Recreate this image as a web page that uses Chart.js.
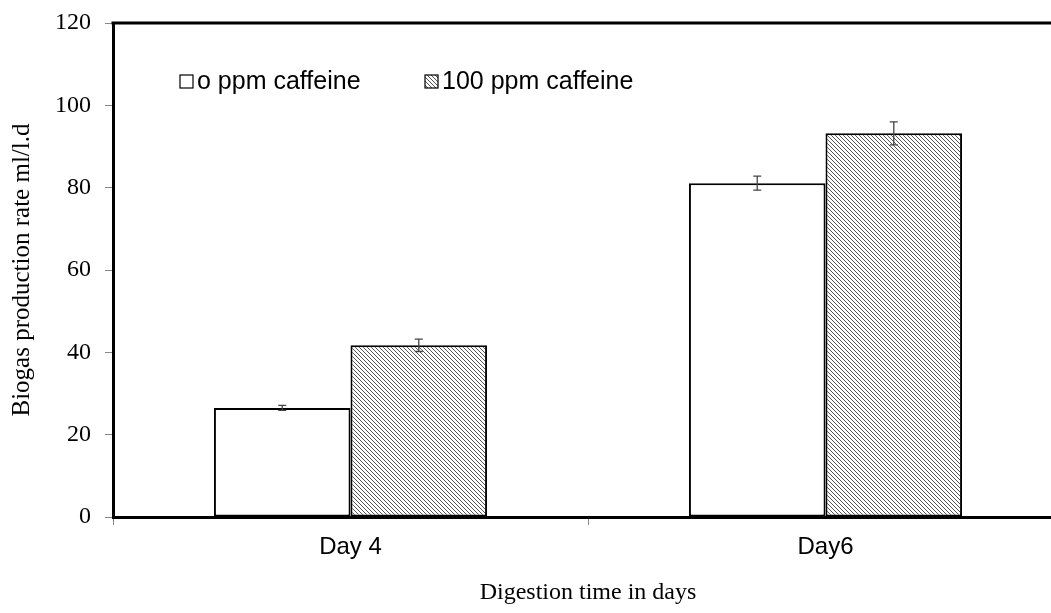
<!DOCTYPE html>
<html lang="en">
<head>
    <meta charset="UTF-8">
    <title>Biogas production rate</title>
    <script src="https://cdn.jsdelivr.net/npm/chart.js"></script>
    <style>
        html, body {
            margin: 0;
            padding: 0;
            background: #fff;
            overflow: hidden;
        }
        .chart-box {
            width: 1063px;
            height: 613px;
        }
    </style>
</head>
<body>
    <div class="chart-box">
        <canvas id="biogasChart"></canvas>
    </div>

    <script>
        const days = ["Day 4", "Day6"];
        const seriesNames = ["o ppm caffeine", "100 ppm caffeine"];
        const noCaffeine = [26.5, 81.1];
        const noCaffeineErr = [0.6, 1.7];
        const caffeine100 = [41.7, 93.2];
        const caffeine100Err = [1.5, 2.8];
        const yTicks = [0, 20, 40, 60, 80, 100, 120];

        // diagonal hatch for the 100 ppm bars
        function makeHatch() {
            const c = document.createElement("canvas");
            c.width = 4;
            c.height = 4;
            const g = c.getContext("2d");
            g.fillStyle = "#fff";
            g.fillRect(0, 0, 4, 4);
            g.strokeStyle = "#555";
            g.lineWidth = 1;
            g.beginPath();
            g.moveTo(-1, -1); g.lineTo(5, 5);
            g.moveTo(-1, 3); g.lineTo(1, 5);
            g.moveTo(3, -1); g.lineTo(5, 1);
            g.stroke();
            return g.createPattern(c, "repeat");
        }
        const hatch = makeHatch();

        const errorBars = {
            id: "errorBars",
            afterDatasetsDraw(chart) {
                const ctx = chart.ctx;
                const y = chart.scales.y;
                ctx.save();
                ctx.strokeStyle = "#444";
                ctx.lineWidth = 1.3;
                chart.data.datasets.forEach((ds, i) => {
                    chart.getDatasetMeta(i).data.forEach((bar, j) => {
                        const v = ds.data[j], e = ds.errors[j];
                        const top = y.getPixelForValue(v + e);
                        const bot = y.getPixelForValue(v - e);
                        ctx.beginPath();
                        ctx.moveTo(bar.x, top); ctx.lineTo(bar.x, bot);
                        ctx.moveTo(bar.x - 4, top); ctx.lineTo(bar.x + 4, top);
                        ctx.moveTo(bar.x - 4, bot); ctx.lineTo(bar.x + 4, bot);
                        ctx.stroke();
                    });
                });
                ctx.restore();
            }
        };

        // top frame line and the legend inside the plot
        const frameAndLegend = {
            id: "frameAndLegend",
            afterDraw(chart) {
                const ctx = chart.ctx;
                const a = chart.chartArea;
                ctx.save();
                ctx.strokeStyle = "#000";
                ctx.lineWidth = 3;
                ctx.beginPath();
                ctx.moveTo(a.left - 1.5, a.top);
                ctx.lineTo(a.right, a.top);
                ctx.stroke();

                ctx.font = "25px 'Liberation Sans', Arial, sans-serif";
                ctx.textBaseline = "middle";
                const xs = [180, 425];
                const ly = 81;
                chart.data.datasets.forEach((ds, i) => {
                    const x = xs[i];
                    ctx.fillStyle = ds.backgroundColor;
                    ctx.fillRect(x, ly - 6, 13, 13);
                    ctx.strokeStyle = "#000";
                    ctx.lineWidth = 1.2;
                    ctx.strokeRect(x, ly - 6, 13, 13);
                    ctx.fillStyle = "#000";
                    ctx.fillText(ds.label, x + 17, ly + 1);
                });
                ctx.restore();
            }
        };

        new Chart(document.getElementById("biogasChart"), {
            type: "bar",
            data: {
                labels: days,
                datasets: [
                    {
                        label: seriesNames[0],
                        data: noCaffeine,
                        errors: noCaffeineErr,
                        backgroundColor: "#fff",
                        borderColor: "#000",
                        borderWidth: 2,
                        borderSkipped: false
                    },
                    {
                        label: seriesNames[1],
                        data: caffeine100,
                        errors: caffeine100Err,
                        backgroundColor: hatch,
                        borderColor: "#000",
                        borderWidth: 2,
                        borderSkipped: false
                    }
                ]
            },
            options: {
                responsive: true,
                maintainAspectRatio: false,
                animation: false,
                layout: { padding: { top: 23, right: 0, left: 0, bottom: 0 } },
                datasets: {
                    bar: { barPercentage: 1, categoryPercentage: 0.575 }
                },
                plugins: {
                    legend: { display: false },
                    tooltip: { enabled: false }
                },
                scales: {
                    x: {
                        grid: {
                            offset: true,
                            drawOnChartArea: false,
                            tickLength: 8,
                            color: "#888",
                            lineWidth: 1
                        },
                        border: { color: "#000", width: 3 },
                        ticks: {
                            color: "#000",
                            padding: 8,
                            font: { family: "'Liberation Sans', Arial, sans-serif", size: 24 }
                        },
                        title: {
                            display: true,
                            text: "Digestion time in days",
                            color: "#000",
                            padding: { top: 10, bottom: 6 },
                            font: { family: "'Liberation Serif', 'Times New Roman', serif", size: 24 }
                        },
                        afterFit(scale) { scale.height = 96; }
                    },
                    y: {
                        min: 0,
                        max: 120,
                        afterBuildTicks(scale) {
                            scale.ticks = yTicks.map(v => ({ value: v }));
                        },
                        grid: {
                            drawOnChartArea: false,
                            tickLength: 8,
                            color: "#888",
                            lineWidth: 1
                        },
                        border: { color: "#000", width: 3 },
                        ticks: {
                            color: "#000",
                            padding: 14,
                            font: { family: "'Liberation Serif', 'Times New Roman', serif", size: 24 }
                        },
                        title: {
                            display: true,
                            text: "Biogas production rate ml/l.d",
                            color: "#000",
                            padding: { top: 7, bottom: 10 },
                            font: { family: "'Liberation Serif', 'Times New Roman', serif", size: 25 }
                        },
                        afterFit(scale) {
                            scale.width = 113;
                            scale.paddingTop = 0;
                            scale.paddingBottom = 0;
                        }
                    }
                }
            },
            plugins: [errorBars, frameAndLegend]
        });
    </script>
</body>
</html>
